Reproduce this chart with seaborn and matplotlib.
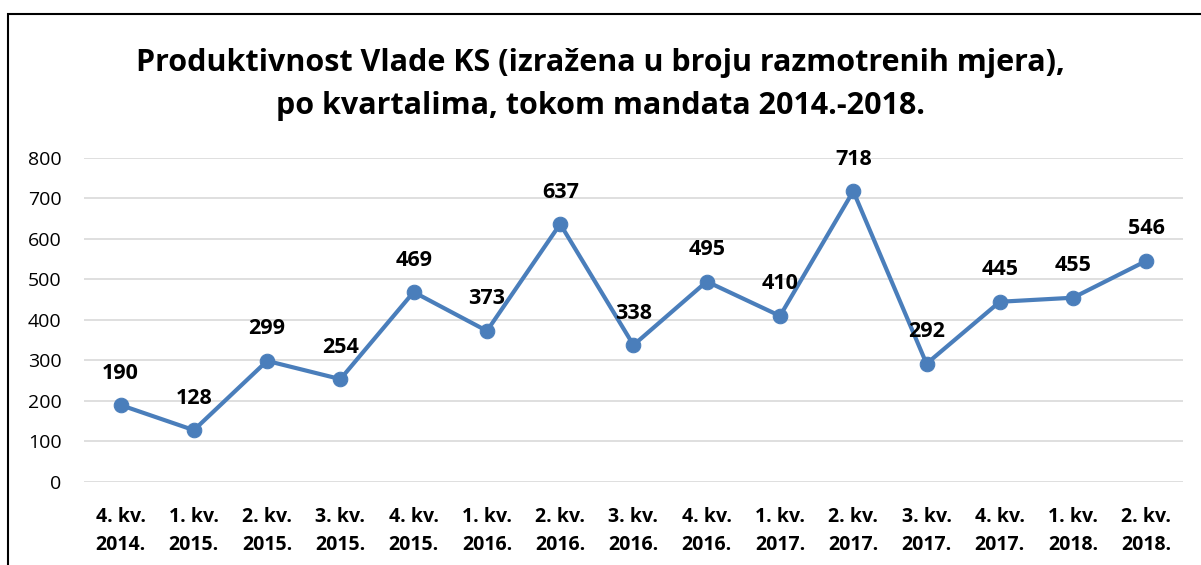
import matplotlib
matplotlib.use("Agg")
import matplotlib.pyplot as plt
import seaborn as sns
import pandas as pd
from matplotlib.patches import Rectangle

categories = ["4. kv.\n2014.", "1. kv.\n2015.", "2. kv.\n2015.", "3. kv.\n2015.", "4. kv.\n2015.",
              "1. kv.\n2016.", "2. kv.\n2016.", "3. kv.\n2016.", "4. kv.\n2016.", "1. kv.\n2017.",
              "2. kv.\n2017.", "3. kv.\n2017.", "4. kv.\n2017.", "1. kv.\n2018.", "2. kv.\n2018."]
values = [190, 128, 299, 254, 469, 373, 637, 338, 495, 410, 718, 292, 445, 455, 546]
yticks = [0, 100, 200, 300, 400, 500, 600, 700, 800]
title = "Produktivnost Vlade KS (izražena u broju razmotrenih mjera),\npo kvartalima, tokom mandata 2014.-2018."

sns.set_theme(style="white")
plt.rcParams['font.family'] = ['Open Sans', 'DejaVu Sans']
plt.rcParams['text.color'] = 'black'
plt.rcParams['xtick.color'] = 'black'
plt.rcParams['ytick.color'] = 'black'

df = pd.DataFrame({"kv": categories, "val": values})
fig = plt.figure(figsize=(12.01, 5.65), dpi=100)
ax = fig.add_axes([0.0699, 0.1469, 0.9151, 0.5735])

color = "#4A7EBB"
sns.lineplot(data=df, x="kv", y="val", ax=ax, color=color, linewidth=3, marker="o",
             markersize=10.5, markeredgecolor=color, sort=False)

ax.set_ylim(0, 800)
ax.set_xlim(-0.5, len(categories) - 0.5)
ax.set_yticks(yticks)
ax.set_yticklabels([str(t) for t in yticks], fontsize=14)
ax.set_xticks(range(len(categories)))
ax.set_xticklabels(categories, fontsize=14, fontweight="bold", linespacing=1.55)
ax.tick_params(axis="x", length=0, pad=18)
ax.tick_params(axis="y", length=0, pad=16)
ax.set_xlabel("")
ax.set_ylabel("")
for s in ax.spines.values():
    s.set_visible(False)
ax.yaxis.grid(True, color="#D9D9D9", linewidth=1.2)
ax.set_axisbelow(True)

for i, v in enumerate(values):
    ax.annotate(str(v), (i, v), xytext=(0, 23), textcoords="offset points",
                ha="center", va="center", fontsize=15.5, fontweight="bold", color="black")

fig.text(0.5, 0.851, title, ha="center", va="center", fontsize=22, fontweight="bold",
         linespacing=1.55, color="black")

fig.patches.append(Rectangle((8 / 1201, -0.05), 1.1, 1 - 14 / 565 + 0.05, transform=fig.transFigure,
                             fill=False, edgecolor="black", linewidth=1.5))

fig.savefig("out.png", dpi=100)
